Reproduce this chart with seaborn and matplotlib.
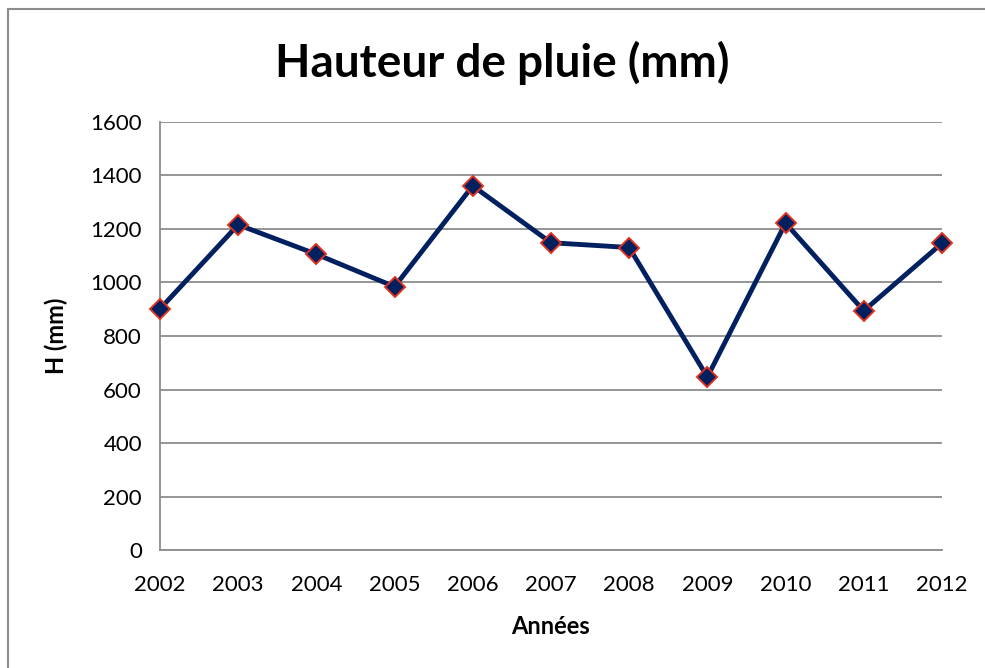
import pandas as pd
import matplotlib.pyplot as plt
import matplotlib.patches as patches
import seaborn as sns

# Rainfall per year
years = [2002, 2003, 2004, 2005, 2006, 2007, 2008, 2009, 2010, 2011, 2012]
rain_mm = [901, 1215, 1105, 984, 1360, 1148, 1130, 647, 1221, 894, 1146]
y_ticks = [0, 200, 400, 600, 800, 1000, 1200, 1400, 1600]

df = pd.DataFrame({'annee': years, 'pluie': rain_mm})

sns.set_style('white')
plt.rcParams['font.family'] = ['Lato', 'DejaVu Sans']
plt.rcParams['text.color'] = 'black'
plt.rcParams['axes.labelcolor'] = 'black'

fig = plt.figure(figsize=(9.85, 6.68), dpi=100)
ax = fig.add_axes([0.1624, 0.1759, 0.7939, 0.6422])

# Excel-like outer frame
fig.patches.append(patches.Rectangle((8 / 985, -0.05), 1.2, 1 - 9 / 668 + 0.05,
                                     transform=fig.transFigure, fill=False,
                                     edgecolor='#8c8c8c', linewidth=1.5))

sns.lineplot(data=df, x='annee', y='pluie', ax=ax, color='#002060', linewidth=3.5,
             marker='D', markersize=10.5, markerfacecolor='#002060',
             markeredgecolor='#e0301e', markeredgewidth=1.4, clip_on=False, zorder=3)

ax.set_xlim(years[0], years[-1])
ax.set_ylim(0, 1600)
ax.set_xticks(years)
ax.set_yticks(y_ticks)
ax.tick_params(axis='both', labelsize=16, colors='#8c8c8c', labelcolor='black',
               length=7, width=1.3, direction='out')
ax.tick_params(axis='x', pad=11)
ax.tick_params(axis='y', pad=6)

ax.grid(axis='y', color='#8c8c8c', linewidth=1.3)
ax.set_axisbelow(True)
for side in ['top', 'right']:
    ax.spines[side].set_visible(False)
for side in ['left', 'bottom']:
    ax.spines[side].set_color('#8c8c8c')
    ax.spines[side].set_linewidth(1.3)

fig.text(502 / 985, 1 - 63 / 668, 'Hauteur de pluie (mm)', fontsize=33,
         fontweight='bold', ha='center', va='center', color='black')
ax.set_xlabel('Années', fontsize=17, fontweight='bold', labelpad=14)
ax.set_ylabel('H (mm)', fontsize=17, fontweight='bold', labelpad=16)

fig.savefig('out.png', dpi=100)
